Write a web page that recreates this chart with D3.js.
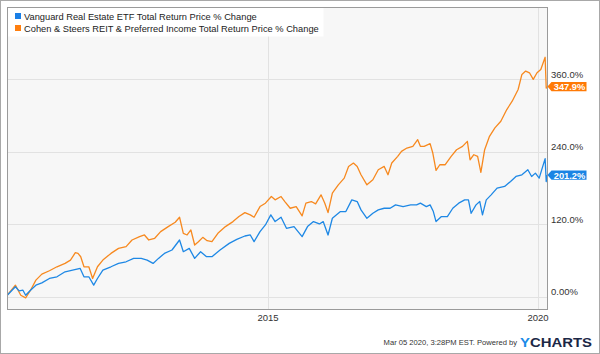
<!DOCTYPE html>
<html><head><meta charset="utf-8">
<script src="https://cdn.jsdelivr.net/npm/d3@7"></script>
<style>html,body{margin:0;padding:0;background:#fff;}svg{display:block;font-family:"Liberation Sans",Arial,sans-serif;}</style>
</head><body><svg id="c" width="600" height="354"></svg>
<script>
const seriesNames = ["Vanguard Real Estate ETF Total Return Price % Change",
                     "Cohen & Steers REIT & Preferred Income Total Return Price % Change"];
const seriesColors = ["#1e88e5", "#f7891f"];
const lastLabels = ["201.2%", "347.9%"];
const lastValues = [201.2, 347.9];
const yTicks = [0, 120, 240, 360];
const yTickLabels = ["0.00%", "120.0%", "240.0%", "360.0%"];
const xTicks = [2015, 2020];
const xTickLabels = ["2015", "2020"];
const footerText = "Mar 05 2020, 3:28PM EST.  Powered by";

// Vanguard Real Estate ETF (decimal year, % change)
const vnqT = [2010.18,2010.33,2010.40,2010.47,2010.52,2010.61,2010.71,2010.82,2010.96,2011.10,2011.25,2011.39,2011.53,2011.60,2011.69,2011.78,2011.85,2011.95,2012.10,2012.24,2012.38,2012.52,2012.66,2012.77,2012.88,2012.98,2013.09,2013.23,2013.37,2013.44,2013.55,2013.65,2013.76,2013.87,2013.97,2014.12,2014.29,2014.43,2014.58,2014.68,2014.75,2014.86,2014.96,2015.06,2015.14,2015.25,2015.35,2015.49,2015.64,2015.74,2015.85,2015.96,2016.03,2016.12,2016.20,2016.35,2016.45,2016.56,2016.66,2016.73,2016.84,2016.95,2017.05,2017.16,2017.27,2017.37,2017.51,2017.65,2017.76,2017.83,2017.94,2018.01,2018.07,2018.12,2018.22,2018.33,2018.43,2018.54,2018.65,2018.72,2018.77,2018.86,2018.93,2018.98,2019.05,2019.14,2019.25,2019.39,2019.50,2019.60,2019.71,2019.82,2019.89,2019.96,2020.03,2020.14,2020.16,2020.18];
const vnqV = [2.2,16.1,9.4,10.5,2.2,10.5,18.8,22.7,29.9,32.7,41.0,43.8,46.6,32.7,32.7,18.8,29.9,43.8,49.3,54.9,57.6,63.2,63.2,60.4,54.9,63.2,71.5,77.1,93.7,74.3,79.8,63.2,74.3,66.0,66.0,77.1,88.1,94.8,100.3,102.0,90.9,107.5,118.6,135.3,124.2,131.4,113.1,115.9,99.2,115.9,124.2,120.3,124.2,102.0,129.7,140.8,140.8,160.2,157.4,143.6,129.7,138.0,143.6,146.3,146.3,151.9,149.1,151.9,151.9,154.7,149.1,151.9,140.8,124.2,132.5,132.5,146.3,154.7,160.2,160.2,138.0,151.9,157.4,135.3,160.2,168.5,179.6,182.4,190.7,199.0,201.8,210.1,199.0,204.5,196.2,228.5,190.5,201.2];

// Cohen & Steers REIT & Preferred Income
const rnpT = [2010.18,2010.33,2010.38,2010.43,2010.52,2010.61,2010.71,2010.82,2010.96,2011.10,2011.25,2011.35,2011.44,2011.49,2011.54,2011.60,2011.69,2011.76,2011.85,2011.95,2012.10,2012.24,2012.38,2012.49,2012.63,2012.72,2012.80,2012.91,2013.02,2013.16,2013.29,2013.37,2013.44,2013.51,2013.58,2013.65,2013.72,2013.80,2013.88,2013.97,2014.08,2014.22,2014.36,2014.47,2014.58,2014.68,2014.75,2014.86,2014.96,2015.07,2015.14,2015.25,2015.32,2015.42,2015.53,2015.64,2015.71,2015.81,2015.89,2015.99,2016.06,2016.12,2016.20,2016.31,2016.42,2016.50,2016.59,2016.66,2016.73,2016.84,2016.95,2017.05,2017.16,2017.23,2017.30,2017.41,2017.48,2017.58,2017.69,2017.78,2017.83,2017.90,2018.01,2018.06,2018.12,2018.19,2018.29,2018.40,2018.50,2018.61,2018.70,2018.75,2018.82,2018.89,2018.95,2019.02,2019.11,2019.21,2019.32,2019.43,2019.53,2019.64,2019.71,2019.78,2019.85,2019.92,2019.99,2020.06,2020.14,2020.16,2020.18];
const rnpV = [2.2,18.8,10.5,2.2,-2.2,10.5,27.2,37.1,42.7,49.3,54.9,60.4,72.6,71.5,65.9,49.3,49.3,29.9,49.3,60.4,71.5,79.8,82.6,93.7,99.2,102.0,93.7,96.5,107.5,115.9,123.1,131.4,104.8,102.0,110.3,85.4,90.9,98.1,92.6,90.9,104.8,115.9,124.2,132.5,139.1,135.3,131.4,149.1,154.7,165.7,160.2,165.7,157.4,146.3,149.1,133.6,154.7,157.4,153.5,168.5,154.7,139.1,171.3,185.1,196.2,215.6,221.2,215.6,201.8,185.1,193.5,210.1,215.6,201.8,221.2,232.3,240.6,246.1,248.9,260.0,248.9,248.9,253.3,237.8,209.0,218.4,218.4,232.3,243.3,248.9,257.2,226.7,235.0,232.3,205.7,243.3,265.5,279.4,290.5,309.9,323.7,343.1,368.1,373.6,370.8,359.8,370.8,376.4,396.5,345.5,347.9];

const svg = d3.select("#c");
const P = {l: 7.5, r: 547.5, t: 7.5, b: 309.5};

svg.append("rect").attr("x",0.5).attr("y",0.5).attr("width",599).attr("height",353)
  .attr("fill","#fff").attr("stroke","#a8a8a8");

const x = d3.scaleLinear().domain([2010.184, 2020.184]).range([P.l, P.r]);
const y = d3.scaleLinear().domain([-21.5, 479]).range([P.b, P.t]);

svg.append("rect").attr("x",P.l).attr("y",P.t).attr("width",P.r-P.l).attr("height",P.b-P.t)
  .attr("fill","#f7f7f7");

// gridlines
svg.append("g").selectAll("line").data(yTicks).join("line")
  .attr("x1",P.l).attr("x2",P.r).attr("y1",d=>Math.round(y(d))+0.5).attr("y2",d=>Math.round(y(d))+0.5)
  .attr("stroke","#e2e2e2").attr("stroke-width",1);
svg.append("g").selectAll("line").data(xTicks).join("line")
  .attr("y1",P.t).attr("y2",P.b).attr("x1",d=>Math.round(x(d))+0.5).attr("x2",d=>Math.round(x(d))+0.5)
  .attr("stroke","#e2e2e2").attr("stroke-width",1);

// legend box
svg.append("rect").attr("x",P.l).attr("y",P.t).attr("width",316).attr("height",29).attr("fill","#fff");

// lines
const line = d3.line().x(d=>x(d[0])).y(d=>y(d[1]));
const series = [d3.zip(vnqT, vnqV), d3.zip(rnpT, rnpV)];
svg.append("g").selectAll("path").data([1,0]).join("path")
  .attr("d", i=>line(series[i])).attr("fill","none").attr("stroke", i=>seriesColors[i])
  .attr("stroke-width",1.3).attr("stroke-linejoin","round");

// plot border
svg.append("rect").attr("x",P.l).attr("y",P.t).attr("width",P.r-P.l).attr("height",P.b-P.t)
  .attr("fill","none").attr("stroke","#9a9a9a");

// y axis labels
const yAxis = d3.axisRight(y).tickValues(yTicks).tickFormat((d,i)=>yTickLabels[i]).tickSize(0).tickPadding(0);
const gy = svg.append("g").attr("transform",`translate(${P.r+3.5},-5)`).call(yAxis);
gy.select(".domain").remove();
gy.selectAll("text").attr("fill","#333").attr("font-size","9.5px").attr("font-family","Liberation Sans, Arial, sans-serif");

// x axis labels
const xAxis = d3.axisBottom(x).tickValues(xTicks).tickFormat((d,i)=>xTickLabels[i]).tickSize(0).tickPadding(0);
const gx = svg.append("g").attr("transform",`translate(0,${P.b+5})`).call(xAxis);
gx.select(".domain").remove();
gx.selectAll("text").attr("fill","#333").attr("font-size","9.5px").attr("font-family","Liberation Sans, Arial, sans-serif");

// legend
const lg = svg.append("g");
seriesNames.forEach((n,i)=>{
  lg.append("rect").attr("x",15).attr("y",13+i*12).attr("width",6).attr("height",6).attr("fill", i===0?"#1a7fe6":"#ff7f0f");
  lg.append("text").attr("x",24).attr("y",19.5+i*12).attr("font-size","9.3px").attr("fill","#222").text(n);
});

// last value badges
lastValues.forEach((v,i)=>{
  const cy = y(v);
  const g = svg.append("g");
  g.append("path").attr("d",`M${P.r},${cy} L${P.r+4},${cy-4.7} L${P.r+39},${cy-4.7} L${P.r+39},${cy+4.7} L${P.r+4},${cy+4.7} Z`)
    .attr("fill", i===0?"#1a84e4":"#ff7a06");
  g.append("text").attr("x",P.r+22).attr("y",cy+3.4).attr("text-anchor","middle").attr("font-size","9.3px")
    .attr("font-weight","bold").attr("fill","#fff").text(lastLabels[i]);
});

// footer
svg.append("text").attr("x",517).attr("y",345).attr("text-anchor","end").attr("font-size","7.6px").attr("fill","#333")
  .text(footerText);
const logo = svg.append("text").attr("x",520).attr("y",346.5).attr("font-size","13.5px").attr("font-weight","bold")
  .attr("font-family","Liberation Sans, Arial, sans-serif").attr("textLength",72).attr("lengthAdjust","spacingAndGlyphs");
logo.append("tspan").attr("fill","#1a8be8").text("Y");
logo.append("tspan").attr("fill","#1b2746").text("CHARTS");
</script></body></html>
